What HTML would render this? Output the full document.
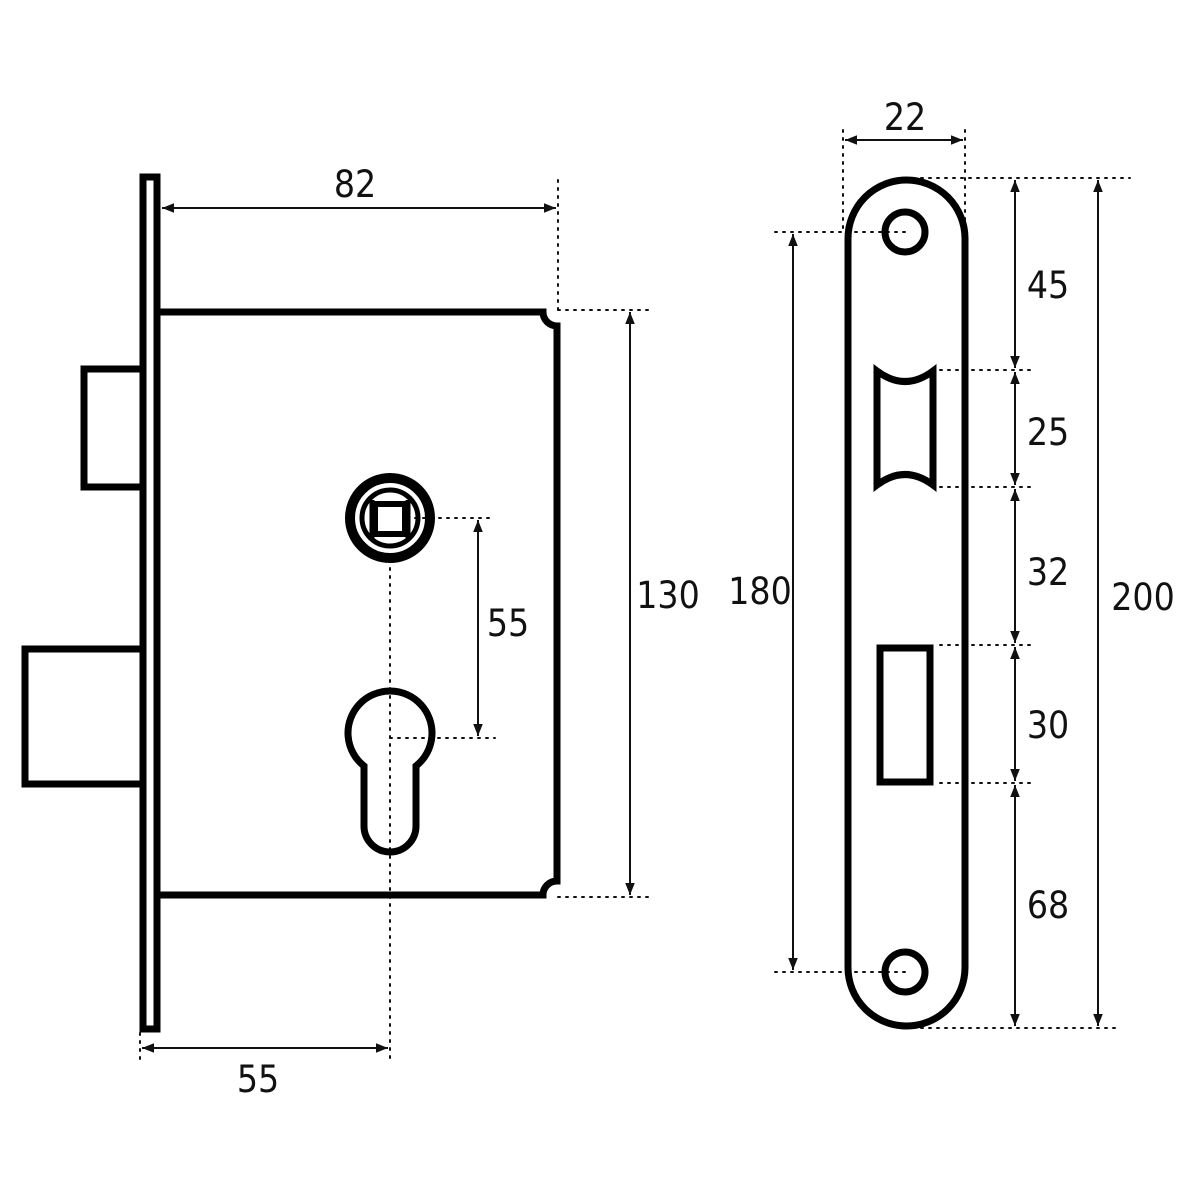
<!DOCTYPE html>
<html><head><meta charset="utf-8"><style>
html,body{margin:0;padding:0;background:#fff;width:1200px;height:1200px;overflow:hidden}
text{font-family:"DejaVu Sans Condensed","Liberation Sans",sans-serif;font-size:37px;fill:#111}
</style></head><body>
<svg width="1200" height="1200" viewBox="0 0 1200 1200" xmlns="http://www.w3.org/2000/svg">
<defs>
<marker id="a" viewBox="0 0 10 10" refX="10" refY="5" markerWidth="12" markerHeight="12" markerUnits="userSpaceOnUse" orient="auto-start-reverse"><path d="M0,1 L10,5 L0,9 Z" fill="#111"/></marker>
</defs>
<g fill="none" stroke="#111" stroke-width="2" stroke-dasharray="2,6" stroke-linecap="round">
<line x1="558" y1="180" x2="558" y2="310"/>
<line x1="558" y1="310" x2="650" y2="310"/>
<line x1="558" y1="897" x2="650" y2="897"/>
<line x1="390" y1="560" x2="390" y2="1062"/>
<line x1="140" y1="1033" x2="140" y2="1062"/>
<line x1="415" y1="518" x2="495" y2="518"/>
<line x1="390" y1="738" x2="495" y2="738"/>
<line x1="843" y1="130" x2="843" y2="232"/>
<line x1="965" y1="130" x2="965" y2="222"/>
<line x1="905" y1="178" x2="1130" y2="178"/>
<line x1="775" y1="232" x2="905" y2="232"/>
<line x1="775" y1="972" x2="905" y2="972"/>
<line x1="940" y1="370" x2="1030" y2="370"/>
<line x1="940" y1="487" x2="1030" y2="487"/>
<line x1="940" y1="645" x2="1030" y2="645"/>
<line x1="940" y1="783" x2="1030" y2="783"/>
<line x1="905" y1="1028" x2="1120" y2="1028"/>
</g>
<g stroke="#111" stroke-width="2" fill="none">
<line x1="162" y1="208" x2="556" y2="208" marker-start="url(#a)" marker-end="url(#a)"/>
<line x1="630" y1="312" x2="630" y2="895" marker-start="url(#a)" marker-end="url(#a)"/>
<line x1="478" y1="520" x2="478" y2="736" marker-start="url(#a)" marker-end="url(#a)"/>
<line x1="142" y1="1048" x2="388" y2="1048" marker-start="url(#a)" marker-end="url(#a)"/>
<line x1="845" y1="140" x2="963" y2="140" marker-start="url(#a)" marker-end="url(#a)"/>
<line x1="793" y1="234" x2="793" y2="970" marker-start="url(#a)" marker-end="url(#a)"/>
<line x1="1098" y1="180" x2="1098" y2="1026" marker-start="url(#a)" marker-end="url(#a)"/>
<line x1="1015" y1="180" x2="1015" y2="368" marker-start="url(#a)" marker-end="url(#a)"/>
<line x1="1015" y1="372" x2="1015" y2="485" marker-start="url(#a)" marker-end="url(#a)"/>
<line x1="1015" y1="489" x2="1015" y2="643" marker-start="url(#a)" marker-end="url(#a)"/>
<line x1="1015" y1="647" x2="1015" y2="781" marker-start="url(#a)" marker-end="url(#a)"/>
<line x1="1015" y1="785" x2="1015" y2="1026" marker-start="url(#a)" marker-end="url(#a)"/>
</g>
<g stroke="#000" stroke-width="7" fill="none">
<rect x="143" y="177" width="14" height="852"/>
<path d="M157,312 L543,312 A14,14 0 0,0 557,326 L557,881 A14,14 0 0,0 543,895 L157,895"/>
<path d="M141,369 L84,369 L84,487 L141,487"/>
<path d="M141,649 L25,649 L25,784 L141,784"/>
<circle cx="390" cy="518" r="40" stroke-width="10"/>
<circle cx="390" cy="518" r="28" stroke-width="5"/>
<rect x="375" y="504" width="30" height="30" stroke-width="6"/>
<line x1="372" y1="500" x2="372" y2="538" stroke-width="5"/>
<line x1="408" y1="500" x2="408" y2="538" stroke-width="5"/>
<path d="M364,766 A42,42 0 1,1 416,766 L416,826 A26,26 0 0,1 364,826 Z"/>
<rect x="848" y="180" width="117" height="846" rx="58.5"/>
<circle cx="905" cy="232" r="20"/>
<circle cx="905" cy="972" r="20"/>
<path d="M877,371 Q905,392 933,371 L933,485 Q905,464 877,485 Z"/>
<rect x="880" y="648" width="50" height="134"/>
</g>
<text x="355" y="197" text-anchor="middle">82</text>
<text x="668" y="608" text-anchor="middle">130</text>
<text x="508" y="636" text-anchor="middle">55</text>
<text x="258" y="1092" text-anchor="middle">55</text>
<text x="905" y="130" text-anchor="middle">22</text>
<text x="760" y="604" text-anchor="middle">180</text>
<text x="1143" y="610" text-anchor="middle">200</text>
<text x="1048" y="298" text-anchor="middle">45</text>
<text x="1048" y="445" text-anchor="middle">25</text>
<text x="1048" y="585" text-anchor="middle">32</text>
<text x="1048" y="738" text-anchor="middle">30</text>
<text x="1048" y="918" text-anchor="middle">68</text>
</svg>
</body></html>
